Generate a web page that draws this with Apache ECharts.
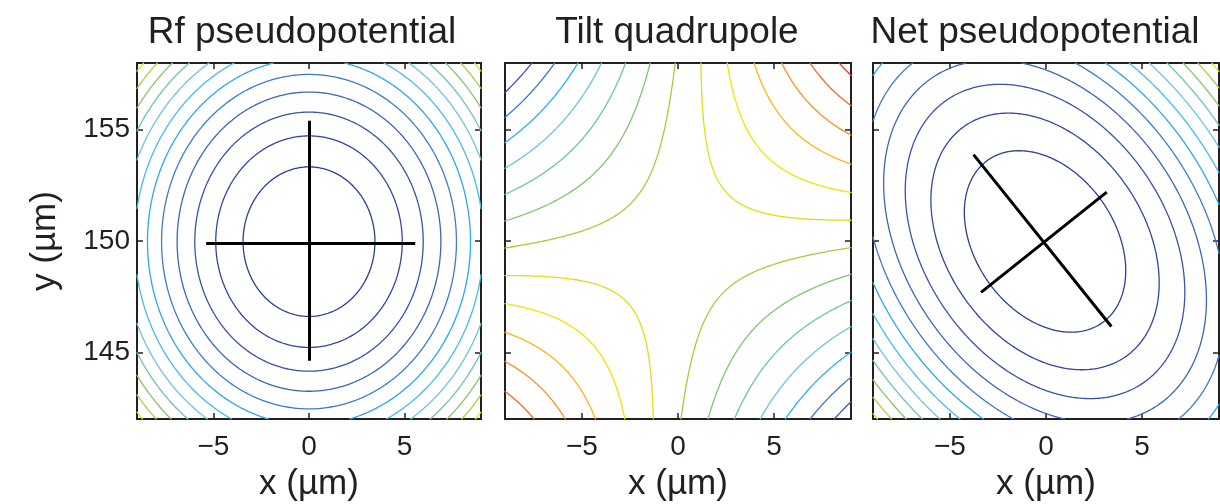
<!DOCTYPE html>
<html><head><meta charset="utf-8">
<script src="https://cdn.jsdelivr.net/npm/echarts@6/dist/echarts.min.js"></script>
<style>html,body{margin:0;padding:0;background:#fff}#c{width:1220px;height:504px}</style>
</head><body><div id="c"></div>
<script>
// ---------------- data ----------------
const panelTitles = ['Rf pseudopotential', 'Tilt quadrupole', 'Net pseudopotential'];
const xRange = [-9, 9];
const yRange = [142, 158];
const xTicks = [-5, 0, 5];
const yTicks = [145, 150, 155];
// fitted quadratic potentials, in units of the contour spacing:
// [coef x^2, coef y^2, coef x*y, centre x, centre y]
const rfField   = [0.0840, 0.0885, 0.0, 0.00, 149.97];
const quadField = [-0.00628, -0.00614, 0.0910, -0.04, 149.69];
const netField  = [0.0633, 0.0671, 0.0420, -0.05, 149.98];
// contour levels drawn in each panel
const rfLevels   = [1, 2, 3, 4, 5, 6, 7, 8, 9, 10, 11, 12];
const quadLevels = [-6.5, -5.5, -4.5, -3.5, -2.5, -1.5, -0.5, 0.5, 1.5, 2.5, 3.5, 4.5, 5.5];
const netLevels  = [1, 2, 3, 4, 5, 6, 7, 8, 9, 10, 11, 12];
// principal-axis segments drawn in black (x, y in µm)
const rfAxes  = [[[-5.38, 149.9], [5.56, 149.9]], [[0, 155.41], [0, 144.62]]];
const netAxes = [[[-3.77, 153.88], [3.40, 146.16]], [[-3.38, 147.69], [3.16, 152.20]]];

// ---------------- styles ----------------
const radialColors = ['#2E3F96','#3447A0','#3A54A9','#3C66B6','#3F7CC6','#2CA8E3',
                      '#45BCEB','#6EC6D6','#6FC3B0','#8AC46A','#B4CA45','#E5E01C'];
const quadColors = ['#3A58AA','#3D76C2','#2AB2EA','#66C8DD','#6CC4AF','#84C470','#A9CB3E',
                    '#E0DD18','#F2E400','#F8B712','#F39322','#EE6B25','#E8372A'];
const FONT = "'Liberation Sans', Arial, Helvetica, sans-serif";
const INK = '#231F20';
const grids = [
  {left: 137, top: 63, width: 344, height: 356, outerBoundsMode: 'none', containLabel: false},
  {left: 505, top: 63, width: 346, height: 356, outerBoundsMode: 'none', containLabel: false},
  {left: 873, top: 63, width: 346, height: 356, outerBoundsMode: 'none', containLabel: false}
];

// ---------------- marching squares ----------------
function contourLines(field, level, step) {
  const [A, B, C, x0, y0] = field;
  const f = (x, y) => { const X = x - x0, Y = y - y0; return A*X*X + B*Y*Y + C*X*Y; };
  const nx = Math.round((xRange[1] - xRange[0]) / step);
  const ny = Math.round((yRange[1] - yRange[0]) / step);
  const xs = [], ys = [];
  for (let i = 0; i <= nx; i++) xs.push(xRange[0] + (xRange[1] - xRange[0]) * i / nx);
  for (let j = 0; j <= ny; j++) ys.push(yRange[0] + (yRange[1] - yRange[0]) * j / ny);
  const v = [];
  for (let i = 0; i <= nx; i++) { v.push([]); for (let j = 0; j <= ny; j++) v[i].push(f(xs[i], ys[j]) - level); }
  const segs = [];
  const ip = (xa, ya, va, xb, yb, vb) => { const t = va / (va - vb); return [xa + (xb - xa) * t, ya + (yb - ya) * t]; };
  for (let i = 0; i < nx; i++) for (let j = 0; j < ny; j++) {
    const a = v[i][j], b = v[i+1][j], c = v[i+1][j+1], d = v[i][j+1];
    const pts = [null, null, null, null];
    if ((a >= 0) !== (b >= 0)) pts[0] = ip(xs[i], ys[j], a, xs[i+1], ys[j], b);       // bottom
    if ((b >= 0) !== (c >= 0)) pts[1] = ip(xs[i+1], ys[j], b, xs[i+1], ys[j+1], c);   // right
    if ((d >= 0) !== (c >= 0)) pts[2] = ip(xs[i], ys[j+1], d, xs[i+1], ys[j+1], c);   // top
    if ((a >= 0) !== (d >= 0)) pts[3] = ip(xs[i], ys[j], a, xs[i], ys[j+1], d);       // left
    const got = pts.filter(p => p);
    if (got.length === 2) segs.push(got);
    else if (got.length === 4) {
      const m = (a + b + c + d) / 4;
      if ((m >= 0) === (a >= 0)) { segs.push([pts[0], pts[1]]); segs.push([pts[2], pts[3]]); }
      else { segs.push([pts[0], pts[3]]); segs.push([pts[1], pts[2]]); }
    }
  }
  // chain segments into polylines
  const key = p => p[0].toFixed(7) + ',' + p[1].toFixed(7);
  const adj = new Map();
  segs.forEach((s, k) => s.forEach(p => { const kk = key(p); if (!adj.has(kk)) adj.set(kk, []); adj.get(kk).push(k); }));
  const used = new Array(segs.length).fill(false);
  const lines = [];
  const extend = pts => {
    for (;;) {
      const last = pts[pts.length - 1];
      const cand = (adj.get(key(last)) || []).find(k => !used[k]);
      if (cand === undefined) break;
      used[cand] = true;
      const s = segs[cand];
      pts.push(key(s[0]) === key(last) ? s[1] : s[0]);
    }
  };
  for (let k = 0; k < segs.length; k++) {
    if (used[k]) continue;
    used[k] = true;
    const pts = [segs[k][0], segs[k][1]];
    extend(pts); pts.reverse(); extend(pts);
    lines.push(pts);
  }
  return lines;
}

// ---------------- build option ----------------
const fmt = v => (v < 0 ? '\u2212' + Math.abs(v) : String(v));
const xAxes = [], yAxes = [], series = [];
grids.forEach((g, i) => {
  const common = {
    type: 'value', gridIndex: i, splitLine: {show: false},
    axisLine: {show: true, onZero: false, lineStyle: {color: INK, width: 2}},
  };
  xAxes.push(Object.assign({}, common, {
    position: 'bottom', min: xRange[0], max: xRange[1],
    axisTick: {show: true, inside: true, length: 6, customValues: xTicks, lineStyle: {color: INK, width: 1.5}},
    axisLabel: {show: true, customValues: xTicks, formatter: fmt, margin: 14, fontSize: 28, color: INK, fontFamily: FONT},
    name: 'x (\u00B5m)', nameLocation: 'middle', nameGap: 48,
    nameTextStyle: {fontSize: 35, color: INK, fontFamily: FONT}
  }));
  yAxes.push(Object.assign({}, common, {
    position: 'left', min: yRange[0], max: yRange[1],
    axisTick: {show: true, inside: true, length: 6, customValues: yTicks, lineStyle: {color: INK, width: 1.5}},
    axisLabel: {show: i === 0, customValues: yTicks, margin: 7, fontSize: 28, color: INK, fontFamily: FONT},
    name: i === 0 ? 'y (\u00B5m)' : '', nameLocation: 'middle', nameGap: 74,
    nameTextStyle: {fontSize: 35, color: INK, fontFamily: FONT}
  }));
});
grids.forEach((g, i) => {
  const common = {
    type: 'value', gridIndex: i, splitLine: {show: false},
    axisLine: {show: true, onZero: false, lineStyle: {color: INK, width: 2}},
    axisLabel: {show: false}
  };
  xAxes.push(Object.assign({}, common, {position: 'top', min: xRange[0], max: xRange[1],
    axisTick: {show: true, inside: true, length: 6, customValues: xTicks, lineStyle: {color: INK, width: 1.5}}}));
  yAxes.push(Object.assign({}, common, {position: 'right', min: yRange[0], max: yRange[1],
    axisTick: {show: true, inside: true, length: 6, customValues: yTicks, lineStyle: {color: INK, width: 1.5}}}));
});

const panels = [
  {field: rfField, levels: rfLevels, colors: radialColors, axes: rfAxes},
  {field: quadField, levels: quadLevels, colors: quadColors, axes: null},
  {field: netField, levels: netLevels, colors: radialColors, axes: netAxes}
];
panels.forEach((p, i) => {
  p.levels.forEach((lv, k) => {
    series.push({
      type: 'lines', coordinateSystem: 'cartesian2d', xAxisIndex: i, yAxisIndex: i,
      polyline: true, silent: true, z: 2,
      lineStyle: {color: p.colors[k], width: 1.3, opacity: 1, cap: 'round', join: 'round'},
      data: contourLines(p.field, lv, 0.08).map(c => ({coords: c}))
    });
  });
  if (p.axes) {
    series.push({
      type: 'lines', coordinateSystem: 'cartesian2d', xAxisIndex: i, yAxisIndex: i,
      silent: true, z: 5,
      lineStyle: {color: '#000', width: 3, opacity: 1},
      data: p.axes.map(s => ({coords: s}))
    });
  }
});

const titleX = [302, 677, 1035];
const option = {
  animation: false,
  backgroundColor: '#fff',
  grid: grids,
  xAxis: xAxes,
  yAxis: yAxes,
  series: series,
  graphic: panelTitles.map((t, i) => ({
    type: 'text', x: titleX[i], y: 33,
    style: {text: t, fill: INK, font: "37px " + FONT, align: 'center', verticalAlign: 'middle'}
  }))
};
const chart = echarts.init(document.getElementById('c'), null, {renderer: 'canvas'});
chart.setOption(option);
</script>
</body></html>
